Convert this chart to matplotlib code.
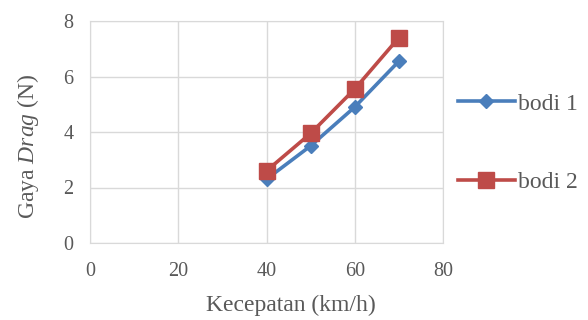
import matplotlib.pyplot as plt

speed = [40, 50, 60, 70]
drag_bodi1 = [2.3, 3.5, 4.9, 6.55]
drag_bodi2 = [2.6, 3.95, 5.55, 7.4]
x_ticks = [0, 20, 40, 60, 80]
y_ticks = [0, 2, 4, 6, 8]

BLUE = "#4a7ebb"
RED = "#be4b48"
TEXT = "#595959"
GRID = "#d9d9d9"

plt.rcParams["font.family"] = ["Liberation Serif", "DejaVu Serif"]
plt.rcParams["mathtext.fontset"] = "custom"
plt.rcParams["mathtext.rm"] = "Liberation Serif"
plt.rcParams["mathtext.it"] = "Liberation Serif:italic"

fig = plt.figure(figsize=(5.88, 3.2), dpi=100)
ax = fig.add_axes([90 / 588, 1 - 243 / 320, 353 / 588, 222 / 320])

ax.plot(speed, drag_bodi1, color=BLUE, linewidth=2.6, marker="D",
        markersize=7.5, label="bodi 1", zorder=3)
ax.plot(speed, drag_bodi2, color=RED, linewidth=2.6, marker="s",
        markersize=11.5, label="bodi 2", zorder=3)

ax.set_xlim(0, 80)
ax.set_ylim(0, 8)
ax.set_xticks(x_ticks)
ax.set_yticks(y_ticks)
ax.grid(True, color=GRID, linewidth=1)
for spine in ax.spines.values():
    spine.set_color(GRID)
ax.tick_params(axis="both", length=0, labelsize=14.5, colors=TEXT)
ax.tick_params(axis="x", pad=13.5)
ax.tick_params(axis="y", pad=12)

# axis titles placed where the original chart has them
fig.text(291 / 588, 1 - 305 / 320, "Kecepatan (km/h)", fontsize=17,
         color=TEXT, ha="center", va="center")
fig.text(28 / 588, 1 - 146 / 320, "Gaya $\\it{Drag}$ (N)", fontsize=17,
         color=TEXT, ha="center", va="center", rotation=90)

fig.legend(loc="center left", bbox_to_anchor=(458 / 588, 1 - 143 / 320),
           frameon=False, borderpad=0, borderaxespad=0, fontsize=17,
           labelcolor=TEXT, handlelength=2.4, handletextpad=0.15,
           labelspacing=2.4)

fig.savefig("out.png", dpi=100)
